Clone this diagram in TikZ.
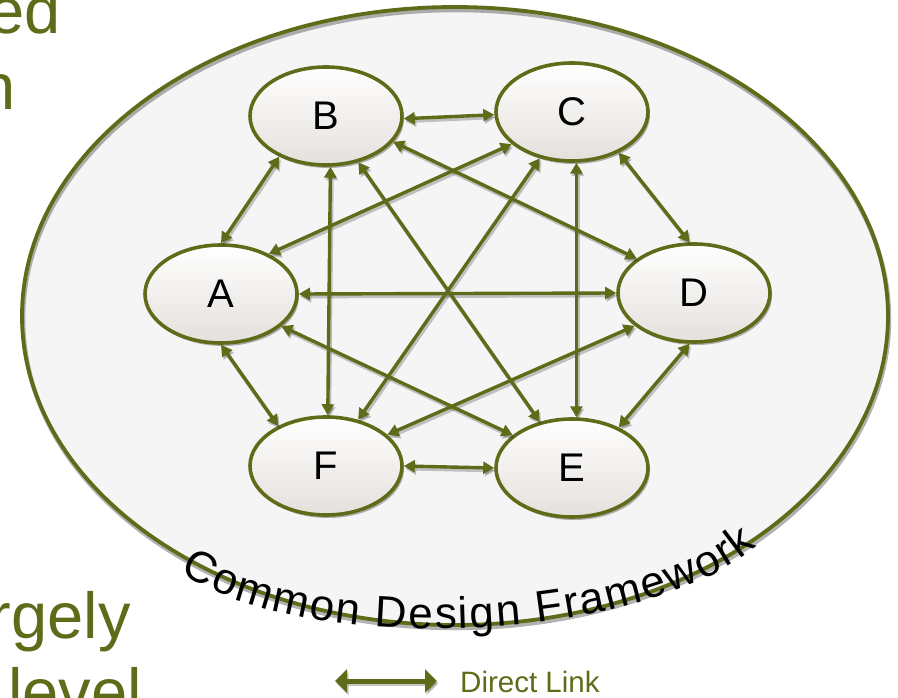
\documentclass[tikz,border=0pt]{standalone}
\usepackage{fontspec}
\setmainfont{Liberation Sans}
\usetikzlibrary{shapes.geometric,arrows.meta,decorations.text,shadows}
\definecolor{ogreen}{RGB}{95,107,24}
\definecolor{nodebot}{RGB}{228,224,220}
\definecolor{bgfill}{RGB}{245,245,245}
\begin{document}
\begin{tikzpicture}[x=1pt,y=-1pt,
  sysnode/.style={ellipse, draw=ogreen, line width=3.6pt, minimum width=152pt, minimum height=98pt,
    inner sep=0pt, top color=white, bottom color=nodebot,
    drop shadow={shadow xshift=2pt, shadow yshift=-3pt, opacity=0.3, fill=black},
    font=\fontsize{40}{40}\selectfont},
  link/.style={draw=ogreen, line width=3.4pt, {Triangle[length=11pt,width=12pt]}-{Triangle[length=11pt,width=12pt]}},
  linkshadow/.style={draw=black, opacity=0.22, line width=3.8pt, {Triangle[length=11pt,width=12pt]}-{Triangle[length=11pt,width=12pt]}},
  bigtext/.style={text=ogreen, inner sep=0pt, font=\fontsize{65}{78}\selectfont},
]
\useasboundingbox (0,0) rectangle (898,698);
\clip (0,0) rectangle (898,698);

% slide text fragments
\node[bigtext, anchor=base east] (t1) at (61,34) {ed};
\node[bigtext, anchor=base east] (t2) at (16,110) {n};
\node[bigtext, anchor=base east] (t3) at (131,638) {rgely};
\node[bigtext, anchor=base west] (t4) at (8,714) {level};

% framework ellipse
\fill[bgfill] (455,316) ellipse [x radius=433, y radius=309];
\draw[black, opacity=0.3, line width=4.5pt, transform canvas={shift={(1pt,-3pt)}}] (455,316) ellipse [x radius=433, y radius=309];
\draw[ogreen, line width=3.8pt] (455,316) ellipse [x radius=433, y radius=309];

% nodes
\node[sysnode] (B) at (326,116) {B};
\node[sysnode] (C) at (572,112) {C};
\node[sysnode] (A) at (221,294) {A};
\node[sysnode] (D) at (694,293) {D};
\node[sysnode] (F) at (326,466) {F};
\node[sysnode] (E) at (572,468) {E};

% links (endpoints as border angles)
\def\linklist{A.90/B.221, A.40/C.208, A.0/D.180, A.332/E.151, A.270/F.140,
  B.358/C.182, B.339/D.149, B/E, B.275/F.88, C.319/D.95, C.275/E.85, C/F,
  D.265/E.41, D.209/F.27, F.0/E.180}
\begin{scope}[transform canvas={shift={(1.5pt,-2.5pt)}}]
\foreach \a/\b in \linklist
  \draw[linkshadow] (\a) -- (\b);
\end{scope}
\foreach \a/\b in \linklist
  \draw[link] (\a) -- (\b);

% curved label
\path[decorate, decoration={text along path, text align=fit to path,
   text={|\fontsize{44}{52}\selectfont|Common Design Framework}}]
   (180,572) .. controls (300,656) and (640,646) .. (757,546);

% legend
\coordinate (lg1) at (335,681);
\coordinate (lg2) at (437,681);
\draw[black, opacity=0.22, line width=5pt, {Triangle[length=12pt,width=23pt]}-{Triangle[length=12pt,width=23pt]}, transform canvas={shift={(1.5pt,-2.5pt)}}] (lg1) -- (lg2);
\draw[ogreen, line width=5pt, {Triangle[length=12pt,width=23pt]}-{Triangle[length=12pt,width=23pt]}] (lg1) -- (lg2);
\node[text=ogreen, inner sep=0pt, anchor=base west, font=\fontsize{29.5}{34}\selectfont] (lgt) at (460,692) {Direct Link};
\end{tikzpicture}
\end{document}
